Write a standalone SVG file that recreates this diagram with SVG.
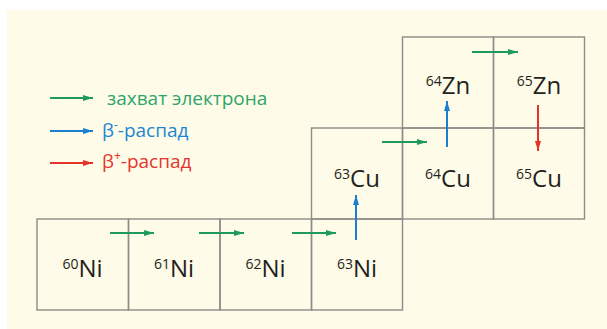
<svg xmlns="http://www.w3.org/2000/svg" width="607" height="329" viewBox="0 0 607 329">
  <defs>
    <marker id="ah-green" viewBox="0 0 10 6" refX="10" refY="3" markerWidth="10" markerHeight="6" markerUnits="userSpaceOnUse" orient="auto">
      <path d="M0,0 L10,3 L0,6 Z" fill="#1f9a5c"/>
    </marker>
    <marker id="ah-blue" viewBox="0 0 10 6" refX="10" refY="3" markerWidth="10" markerHeight="6" markerUnits="userSpaceOnUse" orient="auto">
      <path d="M0,0 L10,3 L0,6 Z" fill="#1b7fd0"/>
    </marker>
    <marker id="ah-red" viewBox="0 0 10 6" refX="10" refY="3" markerWidth="10" markerHeight="6" markerUnits="userSpaceOnUse" orient="auto">
      <path d="M0,0 L10,3 L0,6 Z" fill="#e5332a"/>
    </marker>
  </defs>
  <style>
    .cell { fill: none; stroke: #8c8c88; stroke-width: 1.4; }
    .nuc { font-family: "Open Sans", "Noto Sans", sans-serif; fill: #231f20; text-anchor: middle; }
    .nuc .a { font-size: 14px; }
    .nuc .s { font-size: 24px; }
    .ec { stroke: #1f9a5c; stroke-width: 2; fill: none; marker-end: url(#ah-green); }
    .bm { stroke: #1b7fd0; stroke-width: 2; fill: none; marker-end: url(#ah-blue); }
    .bp { stroke: #e5332a; stroke-width: 2; fill: none; marker-end: url(#ah-red); }
    .leg { font-family: "Open Sans", "Noto Sans", sans-serif; font-size: 19px; }
  </style>

  <rect x="0" y="0" width="607" height="329" fill="#ffffff"/>
  <rect x="7" y="10" width="600" height="319" fill="#fefbe8"/>

  <!-- legend -->
  <g id="legend">
    <line class="ec" x1="50" y1="98" x2="93" y2="98"/>
    <text class="leg" x="107" y="105" fill="#2ea66a">захват электрона</text>
    <line class="bm" x1="50" y1="131" x2="93" y2="131"/>
    <text class="leg" x="102" y="137" fill="#1b87d2">β<tspan font-size="12" dy="-8">-</tspan><tspan dy="8">-распад</tspan></text>
    <line class="bp" x1="50" y1="163" x2="93" y2="163"/>
    <text class="leg" x="102" y="168" fill="#e5352c">β<tspan font-size="12" dy="-8">+</tspan><tspan dy="8">-распад</tspan></text>
  </g>

  <!-- nuclide cells -->
  <g id="ni60"><rect class="cell" x="37" y="219" width="91.5" height="91"/>
    <text class="nuc" x="82.5" y="277"><tspan class="a" dy="-8">60</tspan><tspan class="s" dy="8">Ni</tspan></text></g>
  <g id="ni61"><rect class="cell" x="128.5" y="219" width="91.5" height="91"/>
    <text class="nuc" x="174" y="277"><tspan class="a" dy="-8">61</tspan><tspan class="s" dy="8">Ni</tspan></text></g>
  <g id="ni62"><rect class="cell" x="220" y="219" width="91.5" height="91"/>
    <text class="nuc" x="265.5" y="277"><tspan class="a" dy="-8">62</tspan><tspan class="s" dy="8">Ni</tspan></text></g>
  <g id="ni63"><rect class="cell" x="311.5" y="219" width="91" height="91"/>
    <text class="nuc" x="357" y="277"><tspan class="a" dy="-8">63</tspan><tspan class="s" dy="8">Ni</tspan></text></g>
  <g id="cu63"><rect class="cell" x="311.5" y="128" width="91" height="91"/>
    <text class="nuc" x="357" y="187"><tspan class="a" dy="-8">63</tspan><tspan class="s" dy="8">Cu</tspan></text></g>
  <g id="cu64"><rect class="cell" x="402.5" y="128" width="91" height="91"/>
    <text class="nuc" x="448" y="187"><tspan class="a" dy="-8">64</tspan><tspan class="s" dy="8">Cu</tspan></text></g>
  <g id="cu65"><rect class="cell" x="493.5" y="128" width="91" height="91"/>
    <text class="nuc" x="539" y="187"><tspan class="a" dy="-8">65</tspan><tspan class="s" dy="8">Cu</tspan></text></g>
  <g id="zn64"><rect class="cell" x="402.5" y="37" width="91" height="91"/>
    <text class="nuc" x="448" y="94"><tspan class="a" dy="-8">64</tspan><tspan class="s" dy="8">Zn</tspan></text></g>
  <g id="zn65"><rect class="cell" x="493.5" y="37" width="91" height="91"/>
    <text class="nuc" x="539" y="94"><tspan class="a" dy="-8">65</tspan><tspan class="s" dy="8">Zn</tspan></text></g>

  <!-- transitions -->
  <g id="connectors">
    <line class="ec" x1="110" y1="233" x2="154" y2="233"/>
    <line class="ec" x1="199" y1="233" x2="244" y2="233"/>
    <line class="ec" x1="292" y1="233" x2="336" y2="233"/>
    <line class="ec" x1="382" y1="142" x2="427" y2="142"/>
    <line class="ec" x1="472" y1="52" x2="518" y2="52"/>
    <line class="bm" x1="356" y1="240" x2="356" y2="195"/>
    <line class="bm" x1="447" y1="147" x2="447" y2="101"/>
    <line class="bp" x1="538" y1="105" x2="538" y2="151"/>
  </g>
</svg>
